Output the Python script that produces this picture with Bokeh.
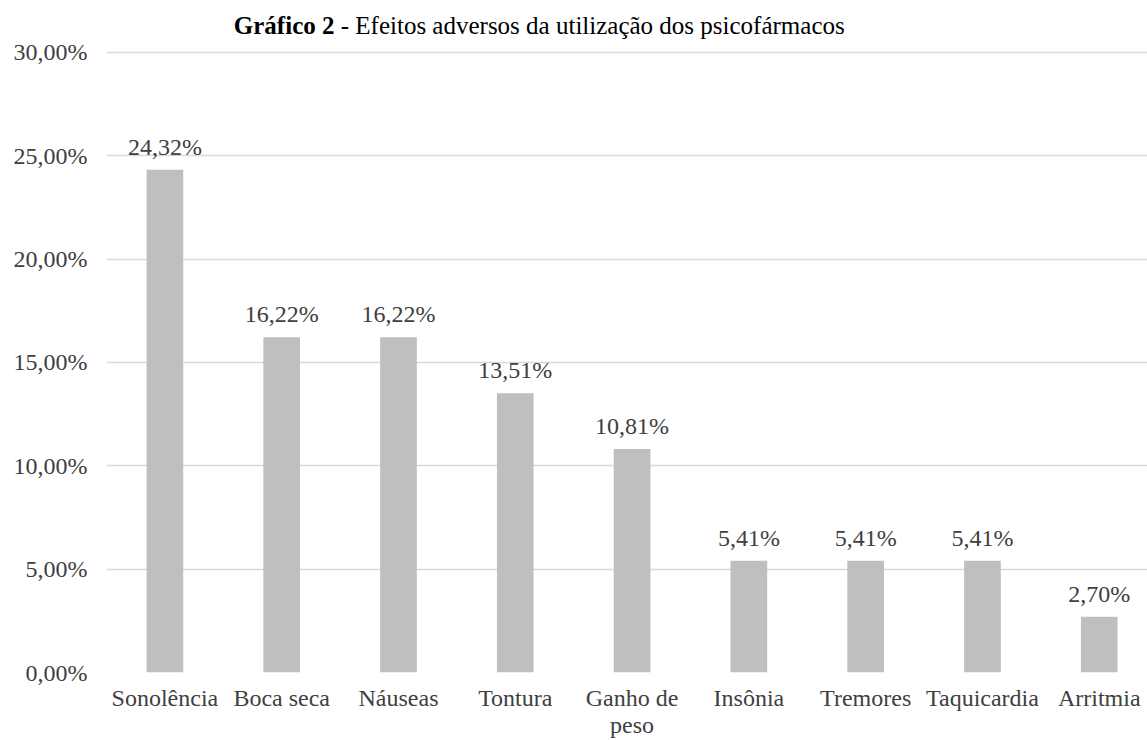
from bokeh.plotting import figure
from bokeh.models import Range1d, FixedTicker, Label, ColumnDataSource
from bokeh.core.properties import value
from bokeh.embed import file_html
from bokeh.resources import INLINE

# ---- data ----
categories = ["Sonolência", "Boca seca", "Náuseas", "Tontura", "Ganho de\npeso",
              "Insônia", "Tremores", "Taquicardia", "Arritmia"]
values = [24.32, 16.22, 16.22, 13.51, 10.81, 5.41, 5.41, 5.41, 2.70]
y_ticks = [0, 5, 10, 15, 20, 25, 30]
y_tick_labels = ["0,00%", "5,00%", "10,00%", "15,00%", "20,00%", "25,00%", "30,00%"]
title_bold = "Gráfico 2"
title_rest = "\u00a0- Efeitos adversos da utilização dos psicofármacos"

FONT = "Liberation Serif"
TXT = "#404040"

xs = [i + 0.5 for i in range(len(categories))]
labels = [("%.2f" % v).replace(".", ",") + "%" for v in values]
src = ColumnDataSource(dict(x=xs, top=values, label=labels))

p = figure(width=1147, height=740, output_backend="svg", toolbar_location=None,
           title=None,
           x_range=Range1d(0, 8.913), y_range=Range1d(0, 32.51),
           min_border_left=106, min_border_right=0, min_border_top=0,
           min_border_bottom=20)
p.outline_line_color = None
p.background_fill_color = "white"
p.border_fill_color = "white"

p.vbar(x="x", top="top", width=0.314, bottom=0, source=src,
       fill_color="#BFBFBF", line_color=None)
p.text(x="x", y="top", text="label", source=src, y_offset=-23,
       text_align="center", text_baseline="middle",
       text_font=value(FONT), text_font_size="24px", text_color=TXT)

# axes
p.xaxis.ticker = FixedTicker(ticks=xs)
p.xaxis.major_label_overrides = {x: c for x, c in zip(xs, categories)}
p.yaxis.ticker = FixedTicker(ticks=y_ticks)
p.yaxis.major_label_overrides = {t: l for t, l in zip(y_ticks, y_tick_labels)}
for ax in (p.xaxis, p.yaxis):
    ax.axis_line_color = None
    ax.major_tick_line_color = None
    ax.minor_tick_line_color = None
    ax.major_tick_out = 0
    ax.major_tick_in = 0
    ax.major_label_text_font = FONT
    ax.major_label_text_font_size = "24px"
    ax.major_label_text_color = TXT
p.xaxis.major_label_standoff = 12
p.xaxis.major_label_text_line_height = 1.05
p.yaxis.major_label_standoff = 19

p.xgrid.grid_line_color = None
p.ygrid.grid_line_color = "#D9D9D9"
p.ygrid.grid_line_width = 1.3

# title (inside the frame, above the 30% line)
p.add_layout(Label(x=1.952, y=31.30, text=title_bold, text_align="right",
                   text_baseline="middle", text_font=FONT,
                   text_font_size="25px", text_font_style="bold",
                   text_color="black"))
p.add_layout(Label(x=1.952, y=31.30, text=title_rest, text_align="left",
                   text_baseline="middle", text_font=FONT,
                   text_font_size="25px", text_color="black"))

open("out.html", "w").write(file_html(p, INLINE))
